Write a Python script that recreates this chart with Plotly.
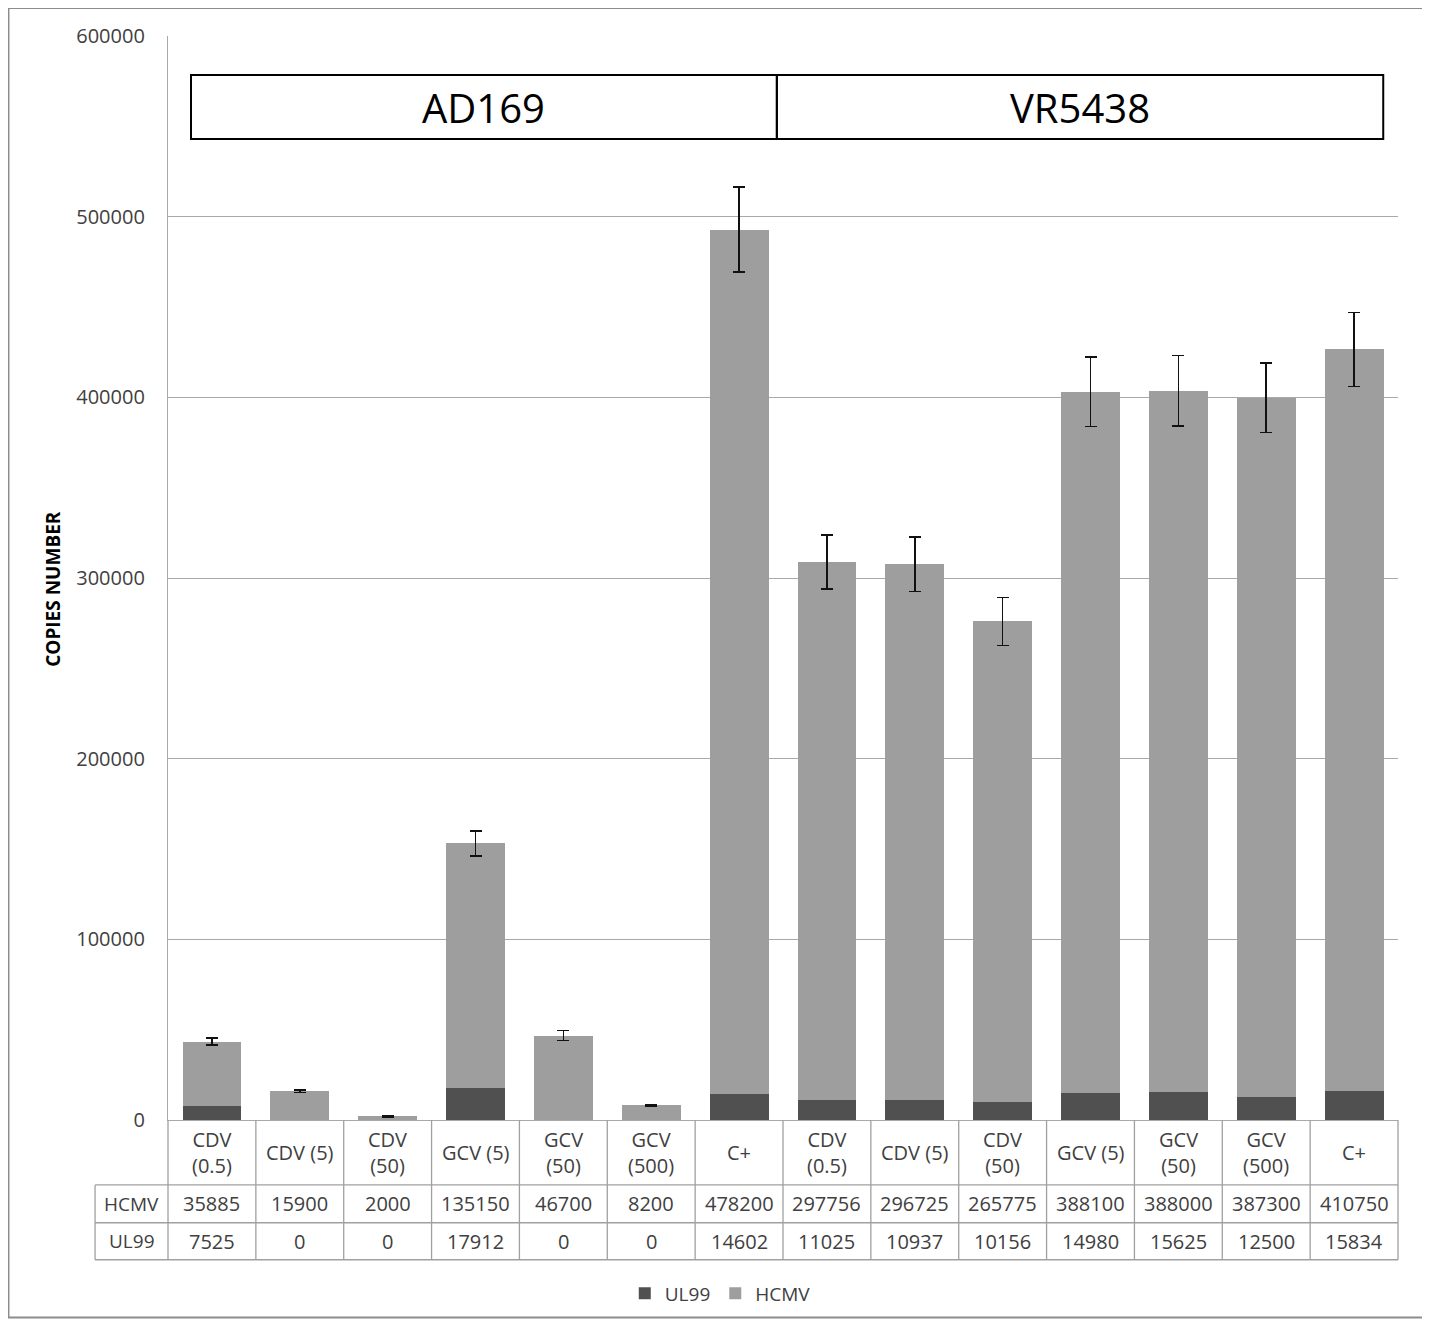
import plotly.graph_objects as go

categories = ["CDV<br>(0.5)", "CDV (5)", "CDV<br>(50)", "GCV (5)", "GCV<br>(50)", "GCV<br>(500)", "C+",
              "CDV<br>(0.5)", "CDV (5)", "CDV<br>(50)", "GCV (5)", "GCV<br>(50)", "GCV<br>(500)", "C+"]
hcmv = [35885, 15900, 2000, 135150, 46700, 8200, 478200,
        297756, 296725, 265775, 388100, 388000, 387300, 410750]
ul99 = [7525, 0, 0, 17912, 0, 0, 14602,
        11025, 10937, 10156, 14980, 15625, 12500, 15834]
err = [2000, 800, 400, 7000, 2800, 400, 23500,
       15000, 15000, 13300, 19300, 19500, 19300, 20500]
groups = ["AD169", "VR5438"]
y_ticks = [0, 100000, 200000, 300000, 400000, 500000, 600000]

n = len(categories)
xs = list(range(n))
FONT = "Open Sans"
GRID = "#a8a8a8"
TXT = "#404040"

fig = go.Figure()
fig.add_trace(go.Bar(x=xs, y=ul99, name="UL99", marker=dict(color="#505050", line=dict(width=0)),
                     width=0.67))
fig.add_trace(go.Bar(x=xs, y=hcmv, name="HCMV", marker=dict(color="#9e9e9e", line=dict(width=0)),
                     width=0.67,
                     error_y=dict(type="data", array=err, visible=True, color="#111111",
                                  thickness=1.5, width=6)))

shapes = []
annotations = []


def ann(x, y, text, size, color=TXT, **kw):
    d = dict(x=x, y=y, xref="paper", yref="paper", text=text, showarrow=False,
             xanchor="center", yanchor="middle", font=dict(family=FONT, size=size, color=color))
    d.update(kw)
    annotations.append(d)


# table geometry (paper coords)
row_y = [0.0, -0.0599, -0.0948, -0.1289]
label_x0 = -0.0593
tcol = "#a0a0a0"
for yy in [row_y[1], row_y[2], row_y[3]]:
    shapes.append(dict(type="line", xref="paper", yref="paper", x0=label_x0, x1=1, y0=yy, y1=yy,
                       line=dict(color=tcol, width=1.3)))
for i in range(n + 1):
    shapes.append(dict(type="line", xref="paper", yref="paper", x0=i / n, x1=i / n,
                       y0=row_y[0], y1=row_y[3], line=dict(color=tcol, width=1.3)))
shapes.append(dict(type="line", xref="paper", yref="paper", x0=label_x0, x1=label_x0,
                   y0=row_y[1], y1=row_y[3], line=dict(color=tcol, width=1.3)))

for i in range(n):
    cx = (i + 0.5) / n
    ann(cx, (row_y[0] + row_y[1]) / 2, categories[i], 20)
    ann(cx, (row_y[1] + row_y[2]) / 2, str(hcmv[i]), 20)
    ann(cx, (row_y[2] + row_y[3]) / 2, str(ul99[i]), 20)
ann(label_x0 / 2, (row_y[1] + row_y[2]) / 2, "HCMV", 19)
ann(label_x0 / 2, (row_y[2] + row_y[3]) / 2, "UL99", 19)

# group boxes
box_x = [0.0187, 0.495, 0.988]
for k, g in enumerate(groups):
    shapes.append(dict(type="rect", xref="paper", yref="paper", x0=box_x[k], x1=box_x[k + 1],
                       y0=0.905, y1=0.964, line=dict(color="black", width=2)))
    ann((box_x[k] + box_x[k + 1]) / 2, 0.9345, g, 40, color="black")

# y axis title
ann(-0.0935, 0.49, "<b>COPIES NUMBER</b>", 19, color="black", textangle=-90)

# outer border
shapes.append(dict(type="rect", xref="paper", yref="paper", x0=-0.1297, x1=1.0211, y0=-0.1823, y1=1.0258,
                   line=dict(color="#8c8c8c", width=2)))

fig.update_layout(
    width=1422, height=1316,
    margin=dict(l=160, r=32, t=28, b=194),
    paper_bgcolor="white", plot_bgcolor="white",
    barmode="stack",
    showlegend=True,
    legend=dict(orientation="h", x=0.449, xanchor="center", y=-0.160, yanchor="middle",
                traceorder="normal", font=dict(family=FONT, size=19, color=TXT),
                itemwidth=30),
    shapes=shapes, annotations=annotations,
    font=dict(family=FONT),
)
fig.update_xaxes(range=[-0.5, n - 0.5], showticklabels=False, showgrid=False, zeroline=False,
                 showline=True, linecolor=GRID, linewidth=1.3, ticks="")
fig.update_yaxes(range=[0, 600000], tickvals=y_ticks, tickformat="d", showgrid=True,
                 gridcolor=GRID, gridwidth=1.3, zeroline=False, showline=True, linecolor=GRID,
                 linewidth=1.3, ticks="", ticklabelstandoff=18,
                 tickfont=dict(family=FONT, size=20, color=TXT))

fig.write_html("out.html")
